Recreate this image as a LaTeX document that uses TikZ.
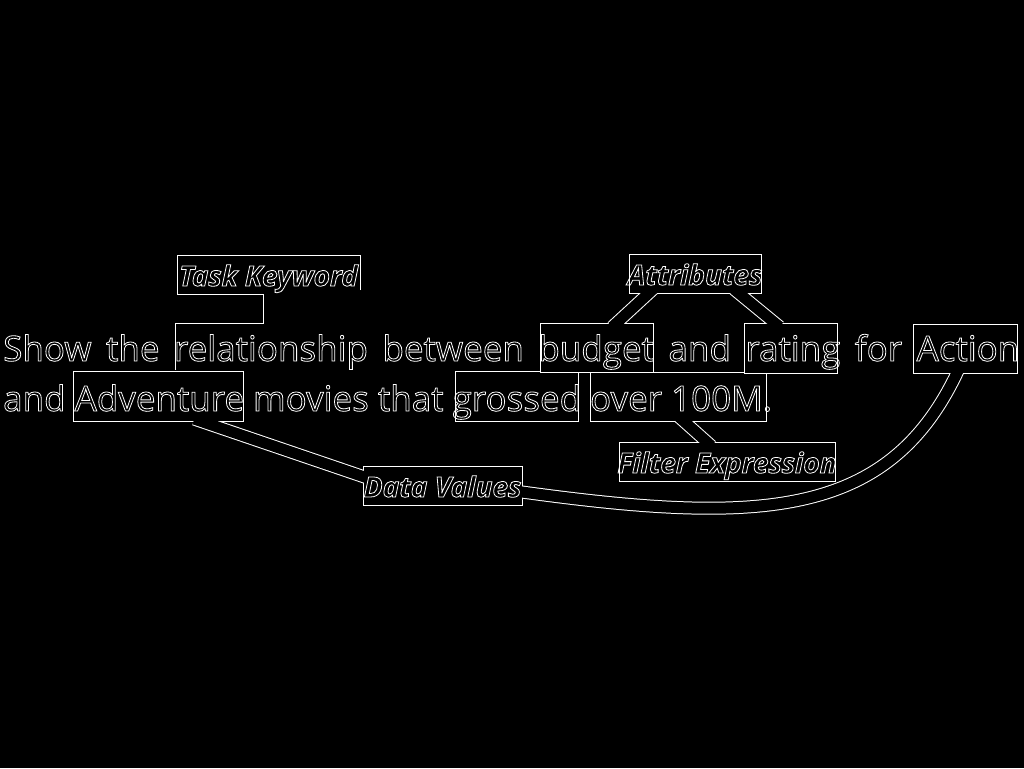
\documentclass[tikz,border=0pt]{standalone}
\usepackage{fontspec}
\setmainfont{Open Sans}
\usetikzlibrary{calc}
\newcommand\hollowtext[1]{\special{pdf:literal direct 1 Tr 0.8 w}#1\special{pdf:literal direct 0 Tr}}
\tikzset{
  shp/.style={rectangle, draw=none, inner sep=0pt, outer sep=0pt},
  boxd/.style={draw=white, fill=black, line width=1pt},
  lbl/.style={font=\fontsize{28}{32}\selectfont\bfseries\itshape, text=white, inner sep=0pt, anchor=base},
  maintext/.style={font=\fontsize{35}{40}\selectfont, text=white, inner sep=0pt, anchor=base west},
  connwhite/.style={white, line width=13pt, shorten <=-6pt, shorten >=-6pt},
  connblack/.style={black, line width=11pt, shorten <=-6pt, shorten >=-6pt},
  edge/.style={white, line width=1pt},
}
\begin{document}
\begin{tikzpicture}[x=1pt, y=-1pt]
\fill[black] (0,0) rectangle (1024,768);
\useasboundingbox (0,0) rectangle (1024,768);
% box geometry
\node[shp, minimum width=183pt, minimum height=39pt] (tk)  at (268.5,274.5) {};
\node[shp, minimum width=197pt, minimum height=47pt] (rel) at (273.5,346.5) {};
\node[shp, minimum width=170pt, minimum height=50pt] (adv) at (158,396) {};
\node[shp, minimum width=159pt, minimum height=39pt] (dv)  at (442.5,485.5) {};
\node[shp, minimum width=132pt, minimum height=39pt] (att) at (695,273.5) {};
\node[shp, minimum width=113pt, minimum height=49pt] (bud) at (596.5,347.5) {};
\node[shp, minimum width=93pt,  minimum height=50pt] (rat) at (790.5,348) {};
\node[shp, minimum width=104pt, minimum height=49pt] (act) at (965,348.5) {};
\node[shp, minimum width=123pt, minimum height=50pt] (gro) at (516.5,396) {};
\node[shp, minimum width=176pt, minimum height=49pt] (ovr) at (678,396.5) {};
\node[shp, minimum width=216pt, minimum height=39pt] (fe)  at (727,461.5) {};
% connectors: outer white bands
\draw[connwhite] ($(att.south)+(-46,0)$) -- ($(bud.north)+(20,0)$);
\draw[connwhite] ($(att.south)+(43.5,0)$) -- ($(rat.north)+(-15.5,0)$);
\draw[connwhite] ($(ovr.south)+(5.5,0)$) -- ($(fe.north)+(-20,0)$);
\draw[connwhite] ($(adv.south)+(42,0)$) -- ($(dv.west)+(0,-9)$);
\draw[connwhite] ($(dv.east)+(0,6.5)$) .. controls (760,525) and (890,520) .. ($(act.south)+(-8,0)$);
% boxes
\foreach \n in {gro,ovr,bud,rat,act,adv,dv,att,fe}{
  \draw[boxd] (\n.south west) rectangle (\n.north east);
}
% connectors: inner black
\draw[connblack] ($(att.south)+(-46,0)$) -- ($(bud.north)+(20,0)$);
\draw[connblack] ($(att.south)+(43.5,0)$) -- ($(rat.north)+(-15.5,0)$);
\draw[connblack] ($(ovr.south)+(5.5,0)$) -- ($(fe.north)+(-20,0)$);
\draw[connblack] ($(adv.south)+(42,0)$) -- ($(dv.west)+(0,-9)$);
\draw[connblack] ($(dv.east)+(0,6.5)$) .. controls (760,525) and (890,520) .. ($(act.south)+(-8,0)$);
% task keyword outline and its link to "relationship"
\fill[black] (tk.south west) rectangle (tk.north east);
\draw[edge] ($(tk.north east)+(0,35)$) -- (tk.north east) -- (tk.north west) -- (tk.south west)
  -- ($(tk.south west)+(86,0)$) -- ($(rel.north west)+(88,0)$) -- (rel.north west) -- (rel.south west);
% texts
\node[maintext] (l1) at (3,361) {\hollowtext{\makebox[1016pt][s]{Show the relationship between budget and rating for Action}}};
\node[maintext] (l2) at (3,411) {\hollowtext{and Adventure movies that grossed over 100M.}};
\node[lbl] (tkt)  at ($(tk.south)+(0,-8)$)  {\hollowtext{Task Keyword}};
\node[lbl] (attt) at ($(att.south)+(0,-8)$) {\hollowtext{Attributes}};
\node[lbl] (dvt)  at ($(dv.south)+(0,-8)$)  {\hollowtext{Data Values}};
\node[lbl] (fet)  at ($(fe.south)+(0,-8)$)  {\hollowtext{Filter Expression}};
\end{tikzpicture}
\end{document}
